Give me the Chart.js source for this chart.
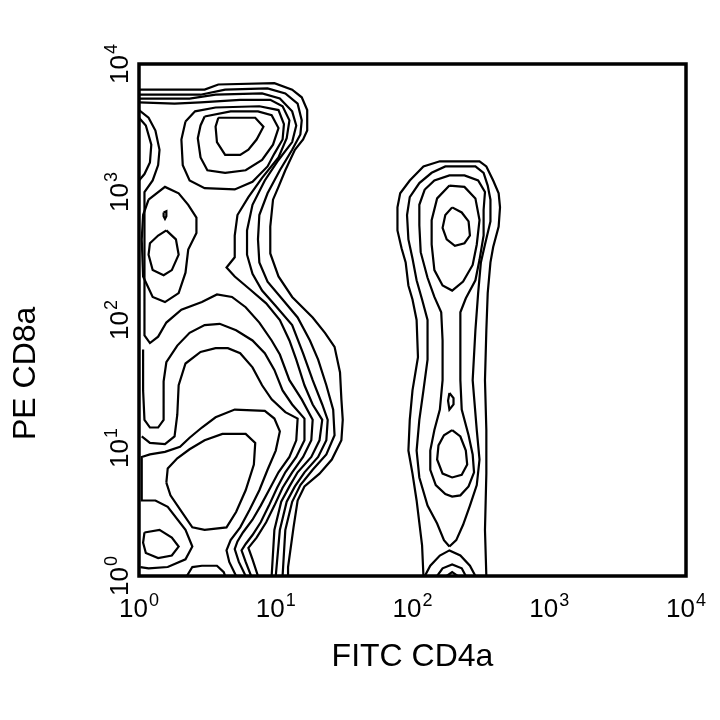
<!DOCTYPE html>
<html>
<head>
<meta charset="utf-8">
<title>FITC CD4a / PE CD8a</title>
<script src="https://cdn.jsdelivr.net/npm/chart.js@4"></script>
<style>
html,body{margin:0;padding:0;background:#fff;}
#plot{display:block;}
</style>
</head>
<body>
<canvas id="plot" width="720" height="720"></canvas>
<script>
// axes run in decades (log10 of intensity)
var decadeTicks = [0, 1, 2, 3, 4];
var decadeBase = '10';
var decadeExponents = ['0', '1', '2', '3', '4'];
var xTitle = 'FITC CD4a';
var yTitle = 'PE CD8a';

// contour lines, points are [log10 FITC, log10 PE]
// left population - outer band (top, shoulder, waist, down to the axis)
var leftEnvelope1 = [[0,3.80],[0.48,3.80],[0.58,3.84],[0.99,3.85],[1.12,3.80],[1.19,3.74],[1.23,3.64],[1.23,3.48],[1.20,3.41],[1.14,3.33],[1.07,3.17],[1.02,3.04],[0.98,2.94],[0.96,2.73],[0.96,2.52],[1.02,2.34],[1.12,2.18],[1.27,2.02],[1.36,1.90],[1.43,1.79],[1.47,1.59],[1.48,1.38],[1.49,1.22],[1.48,1.06],[1.41,0.91],[1.32,0.80],[1.21,0.70],[1.16,0.59],[1.13,0.38],[1.09,0.07],[1.09,0]];
var leftEnvelope2 = [[0,3.76],[0.45,3.76],[0.63,3.80],[0.94,3.81],[1.07,3.77],[1.16,3.69],[1.19,3.56],[1.18,3.45],[1.12,3.33],[1.03,3.17],[0.94,2.99],[0.88,2.82],[0.87,2.63],[0.88,2.45],[0.94,2.30],[1.05,2.16],[1.16,2.02],[1.25,1.84],[1.31,1.69],[1.37,1.49],[1.42,1.30],[1.43,1.10],[1.37,0.95],[1.27,0.83],[1.18,0.71],[1.12,0.58],[1.07,0.36],[1.05,0]];
var leftEnvelope3 = [[0,3.73],[0.37,3.73],[0.56,3.76],[0.90,3.77],[1.03,3.73],[1.12,3.63],[1.15,3.52],[1.12,3.39],[1.02,3.25],[0.92,3.09],[0.83,2.90],[0.79,2.70],[0.79,2.51],[0.83,2.36],[0.90,2.23],[1.00,2.11],[1.12,1.96],[1.20,1.74],[1.27,1.53],[1.34,1.34],[1.38,1.22],[1.37,1.06],[1.31,0.93],[1.21,0.81],[1.14,0.70],[1.08,0.58],[1.03,0.36],[1.00,0]];
var leftEnvelope4 = [[0,3.70],[0.26,3.69],[0.45,3.70],[0.74,3.72],[0.96,3.72],[1.05,3.67],[1.10,3.56],[1.08,3.42],[1.02,3.27],[0.90,3.11],[0.80,2.96],[0.72,2.82],[0.70,2.66],[0.70,2.49],[0.64,2.41],[0.70,2.34],[0.81,2.24],[0.93,2.13],[1.03,2.00],[1.10,1.84],[1.15,1.69],[1.21,1.49],[1.27,1.34],[1.34,1.22],[1.32,1.06],[1.26,0.93],[1.16,0.81],[1.10,0.70],[1.04,0.58],[0.99,0.36],[0.97,0]];
var leftBorderLobe = [[0,3.64],[0.07,3.58],[0.12,3.48],[0.15,3.33],[0.14,3.21],[0.10,3.09],[0.04,3.00],[0.04,2.78],[0.04,2.47],[0.04,2.16],[0.04,1.88],[0.08,1.82],[0.14,1.87],[0.20,1.98],[0.31,2.08],[0.46,2.14],[0.57,2.20],[0.68,2.18],[0.78,2.10],[0.88,1.98],[0.97,1.84],[1.03,1.73],[1.10,1.53],[1.19,1.38],[1.27,1.22],[1.26,1.06],[1.20,0.93],[1.12,0.81],[1.05,0.69],[0.99,0.55],[0.93,0.42],[0.86,0.30],[0.80,0.22],[0.83,0.13],[0.87,0]];
var leftBorderInner = [[0,3.58],[0.05,3.52],[0.09,3.37],[0.08,3.23],[0.04,3.14],[0,3.09]];
var leftMid2 = [[0.03,1.77],[0.03,1.45],[0.04,1.22],[0.08,1.16],[0.14,1.16],[0.18,1.22],[0.18,1.38],[0.18,1.52],[0.20,1.67],[0.28,1.80],[0.37,1.90],[0.48,1.96],[0.59,1.97],[0.71,1.92],[0.83,1.84],[0.92,1.74],[0.99,1.61],[1.05,1.45],[1.12,1.34],[1.21,1.23],[1.21,1.06],[1.15,0.93],[1.07,0.81],[1.01,0.69],[0.95,0.55],[0.89,0.42],[0.83,0.32],[0.78,0.25],[0.75,0.20],[0.78,0.11],[0.82,0]];
var leftMid3 = [[0.02,1.09],[0.08,1.04],[0.19,1.03],[0.26,1.09],[0.28,1.26],[0.29,1.49],[0.34,1.66],[0.45,1.75],[0.56,1.78],[0.65,1.78],[0.74,1.74],[0.83,1.63],[0.90,1.49],[0.97,1.38],[1.07,1.28],[1.16,1.23],[1.15,1.06],[1.10,0.93],[1.02,0.81],[0.96,0.69],[0.89,0.55],[0.83,0.44],[0.76,0.34],[0.72,0.27],[0.70,0.21],[0.73,0.11],[0.78,0]];
var leftLowerLoop = [[0.71,0],[0.66,0.11],[0.64,0.20],[0.67,0.28],[0.74,0.38],[0.81,0.52],[0.88,0.67],[0.94,0.83],[1.00,0.98],[1.03,1.13],[0.99,1.23],[0.92,1.29],[0.70,1.30],[0.56,1.24],[0.46,1.16],[0.37,1.08],[0.30,1.01],[0.19,0.97],[0.08,0.95],[0.02,0.93],[0.02,0.79],[0.02,0.59],[0.12,0.59],[0.21,0.54],[0.34,0.36],[0.39,0.23],[0.34,0.13],[0.21,0.07],[0.07,0.06],[0.01,0.07]];
var leftLowerCore = [[0.20,0.73],[0.21,0.84],[0.28,0.92],[0.37,0.99],[0.48,1.06],[0.61,1.11],[0.78,1.11],[0.85,1.04],[0.84,0.87],[0.78,0.67],[0.71,0.50],[0.64,0.38],[0.48,0.36],[0.39,0.38],[0.30,0.52],[0.23,0.63],[0.20,0.73]];
var leftBottomPeak = [[0.04,0.34],[0.15,0.36],[0.24,0.30],[0.29,0.23],[0.24,0.16],[0.14,0.14],[0.05,0.18],[0.03,0.26],[0.04,0.34]];
var leftBaseArch = [[0.35,0],[0.39,0.07],[0.46,0.08],[0.57,0.08],[0.62,0.03],[0.63,0]];
// left population - peaks
var topPeak1 = [[0.58,3.58],[0.85,3.58],[0.91,3.51],[0.86,3.41],[0.80,3.33],[0.74,3.29],[0.63,3.29],[0.57,3.39],[0.56,3.51],[0.58,3.58]];
var topPeak2 = [[0.48,3.59],[0.67,3.63],[0.87,3.63],[0.97,3.60],[1.02,3.50],[0.98,3.37],[0.90,3.25],[0.78,3.17],[0.63,3.15],[0.50,3.17],[0.45,3.27],[0.43,3.42],[0.45,3.52],[0.48,3.59]];
var topPeak3 = [[0.34,3.55],[0.41,3.63],[0.56,3.66],[0.88,3.67],[1.02,3.64],[1.06,3.53],[1.05,3.41],[0.99,3.30],[0.94,3.20],[0.83,3.08],[0.70,3.02],[0.48,3.03],[0.37,3.09],[0.32,3.21],[0.31,3.41],[0.34,3.55]];
var midDot = [[0.18,2.84],[0.20,2.85],[0.20,2.81],[0.19,2.79],[0.18,2.81],[0.18,2.84]];
var midPeak1 = [[0.20,2.70],[0.27,2.63],[0.29,2.51],[0.24,2.39],[0.18,2.35],[0.10,2.39],[0.07,2.51],[0.08,2.60],[0.14,2.66],[0.20,2.70]];
var midPeak2 = [[0.07,2.94],[0.19,3.04],[0.29,2.99],[0.36,2.90],[0.42,2.80],[0.42,2.68],[0.36,2.55],[0.34,2.37],[0.29,2.21],[0.19,2.14],[0.10,2.18],[0.03,2.34],[0.02,2.63],[0.03,2.82],[0.07,2.94]];

// right population (CD4+)
var rightOuter1 = [[2.08,0],[2.07,0.24],[2.03,0.59],[2.00,0.80],[1.97,0.98],[1.98,1.22],[2.00,1.45],[2.04,1.71],[2.03,2.00],[2.00,2.16],[1.97,2.27],[1.95,2.45],[1.92,2.56],[1.89,2.70],[1.89,2.88],[1.91,2.99],[1.98,3.09],[2.08,3.20],[2.20,3.24],[2.49,3.24],[2.54,3.20],[2.59,3.09],[2.63,2.99],[2.64,2.88],[2.63,2.73],[2.59,2.57],[2.57,2.45],[2.55,2.21],[2.54,1.92],[2.53,1.53],[2.54,1.14],[2.54,0.80],[2.53,0.36],[2.54,0]];
var rightOuter2 = [[2.27,0.23],[2.23,0.28],[2.18,0.41],[2.11,0.55],[2.05,0.77],[2.03,0.98],[2.05,1.22],[2.08,1.45],[2.11,1.69],[2.11,2.00],[2.07,2.16],[2.03,2.31],[2.00,2.48],[1.97,2.63],[1.96,2.82],[1.98,2.96],[2.05,3.07],[2.14,3.15],[2.24,3.20],[2.46,3.20],[2.52,3.15],[2.55,3.05],[2.57,2.94],[2.57,2.77],[2.53,2.59],[2.50,2.45],[2.48,2.21],[2.46,1.92],[2.44,1.53],[2.47,1.14],[2.49,0.91],[2.47,0.71],[2.42,0.55],[2.37,0.40],[2.32,0.28],[2.27,0.23]];
var rightOuter3 = [[2.09,3.02],[2.16,3.09],[2.27,3.13],[2.38,3.13],[2.48,3.09],[2.53,3.00],[2.52,2.86],[2.52,2.66],[2.49,2.47],[2.46,2.31],[2.39,2.17],[2.35,2.06],[2.35,1.84],[2.35,1.53],[2.36,1.30],[2.41,1.10],[2.44,0.95],[2.45,0.81],[2.41,0.70],[2.35,0.63],[2.29,0.62],[2.24,0.64],[2.17,0.71],[2.13,0.83],[2.13,0.98],[2.16,1.14],[2.20,1.30],[2.22,1.53],[2.22,1.84],[2.21,2.06],[2.16,2.18],[2.11,2.33],[2.06,2.53],[2.05,2.74],[2.05,2.90],[2.09,3.02]];
var rightUpper2 = [[2.27,3.05],[2.38,3.04],[2.46,2.95],[2.49,2.78],[2.47,2.59],[2.44,2.43],[2.37,2.30],[2.29,2.23],[2.22,2.27],[2.16,2.39],[2.14,2.59],[2.14,2.78],[2.18,2.95],[2.27,3.05]];
var rightUpper1 = [[2.29,2.88],[2.36,2.84],[2.41,2.77],[2.42,2.66],[2.38,2.60],[2.31,2.58],[2.25,2.63],[2.22,2.72],[2.24,2.82],[2.29,2.88]];
var rightLower1 = [[2.29,1.14],[2.35,1.09],[2.39,0.98],[2.40,0.87],[2.36,0.79],[2.29,0.77],[2.22,0.80],[2.18,0.91],[2.19,1.02],[2.23,1.10],[2.29,1.14]];
var rightMidDot = [[2.27,1.43],[2.30,1.39],[2.30,1.34],[2.27,1.30],[2.26,1.37],[2.27,1.43]];
var rightBase1 = [[2.09,0],[2.13,0.08],[2.20,0.16],[2.27,0.20],[2.35,0.16],[2.42,0.08],[2.46,0]];
var rightBase2 = [[2.18,0],[2.22,0.06],[2.29,0.09],[2.36,0.06],[2.39,0]];
var rightBase3 = [[2.25,0],[2.29,0.03],[2.33,0]];

var contourLines = [
	leftEnvelope1, leftEnvelope2, leftEnvelope3, leftEnvelope4,
	leftBorderLobe, leftBorderInner, leftMid2, leftMid3,
	leftLowerLoop, leftLowerCore, leftBottomPeak, leftBaseArch,
	topPeak1, topPeak2, topPeak3, midDot, midPeak1, midPeak2,
	rightOuter1, rightOuter2, rightOuter3, rightUpper2, rightUpper1,
	rightLower1, rightMidDot, rightBase1, rightBase2, rightBase3
];

var fontFamily = "'Liberation Sans', Arial, Helvetica, sans-serif";

//one line dataset per contour
var datasets = contourLines.map(function(line){
	return {
		data: line.map(function(p){ return {x: p[0], y: p[1]}; }),
		showLine: true,
		borderColor: '#000',
		borderWidth: 2.2,
		pointRadius: 0,
		pointHoverRadius: 0,
		fill: false,
		tension: 0
	};
});

//heavy plot frame
var framePlugin = {
	id: 'plotFrame',
	afterDatasetsDraw: function(chart){
		var a = chart.chartArea, ctx = chart.ctx;
		ctx.save();
		ctx.strokeStyle = '#000';
		ctx.lineWidth = 3.5;
		ctx.strokeRect(a.left, a.top, a.right - a.left, a.bottom - a.top);
		ctx.restore();
	}
};

//"10" with a raised exponent, centred on (0,0) baseline
function drawPower(ctx, i){
	ctx.font = '26px ' + fontFamily;
	var w1 = ctx.measureText(decadeBase).width;
	ctx.font = '18px ' + fontFamily;
	var w2 = ctx.measureText(decadeExponents[i]).width;
	var start = -(w1 + w2 + 1) / 2;
	ctx.font = '26px ' + fontFamily;
	ctx.fillText(decadeBase, start, 0);
	ctx.font = '18px ' + fontFamily;
	ctx.fillText(decadeExponents[i], start + w1 + 1, -11);
}

//decade tick labels placed by the scales
var decadeLabelPlugin = {
	id: 'decadeLabels',
	afterDraw: function(chart){
		var ctx = chart.ctx, sx = chart.scales.x, sy = chart.scales.y;
		ctx.save();
		ctx.fillStyle = '#000';
		ctx.textAlign = 'left';
		ctx.textBaseline = 'alphabetic';
		decadeTicks.forEach(function(v, i){
			ctx.save();
			ctx.translate(sx.getPixelForValue(v), sx.top + 41);
			drawPower(ctx, i);
			ctx.restore();

			ctx.save();
			ctx.translate(sy.right - 11, sy.getPixelForValue(v));
			ctx.rotate(-Math.PI / 2);
			drawPower(ctx, i);
			ctx.restore();
		});
		ctx.restore();
	}
};

new Chart(document.getElementById('plot'), {
	type: 'scatter',
	data: {datasets: datasets},
	plugins: [framePlugin, decadeLabelPlugin],
	options: {
		responsive: false,
		animation: false,
		devicePixelRatio: 1,
		layout: {padding: {top: 64, right: 34, bottom: 0, left: 0}},
		plugins: {legend: {display: false}, tooltip: {enabled: false}},
		scales: {
			x: {
				type: 'linear', min: 0, max: 4,
				afterFit: function(s){ s.height = 144; },
				grid: {display: false, drawTicks: false},
				border: {display: false},
				ticks: {stepSize: 1, display: false},
				title: {
					display: true, text: xTitle, color: '#000',
					font: {family: fontFamily, size: 32},
					padding: {top: 0, bottom: 44}
				}
			},
			y: {
				type: 'linear', min: 0, max: 4,
				afterFit: function(s){ s.width = 139; },
				grid: {display: false, drawTicks: false},
				border: {display: false},
				ticks: {stepSize: 1, display: false},
				title: {
					display: true, text: yTitle + '            ', color: '#000',
					font: {family: fontFamily, size: 32},
					padding: {top: 7, bottom: 0}
				}
			}
		}
	}
});
</script>
</body>
</html>
